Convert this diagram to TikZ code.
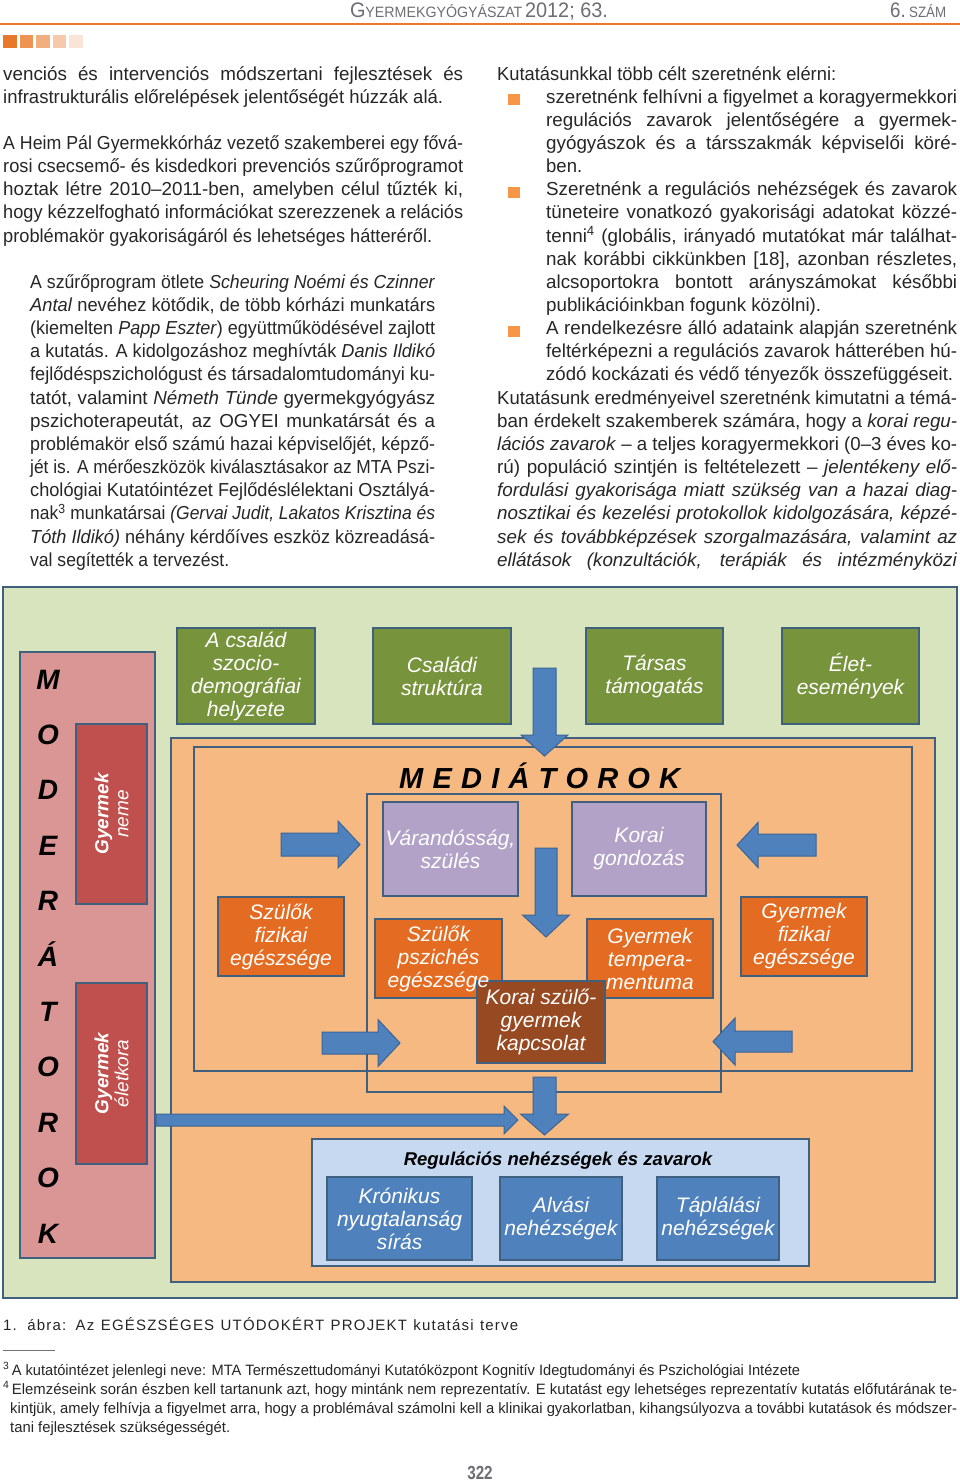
\documentclass[tikz,border=0pt]{standalone}
\usepackage{fontspec}
\setmainfont{Liberation Sans}
\newfontfamily\ritkitott[LetterSpace=8]{Liberation Sans}
\usepackage{graphicx}

\definecolor{hatzold}{HTML}{D7E4BD}
\definecolor{keret}{HTML}{40607F}
\definecolor{rozsa}{HTML}{D99694}
\definecolor{vorosbox}{HTML}{C0504D}
\definecolor{oliva}{HTML}{77933C}
\definecolor{halvnarancs}{HTML}{F5B981}
\definecolor{lila}{HTML}{B3A2C7}
\definecolor{narancs}{HTML}{E46C22}
\definecolor{barna}{HTML}{974A21}
\definecolor{halvkek}{HTML}{C6D9F1}
\definecolor{kek}{HTML}{4F81BD}
\definecolor{nyilkeret}{HTML}{3A6496}
\definecolor{fejnarancs}{HTML}{E8792B}
\definecolor{fejszurke}{HTML}{6D6E71}
\definecolor{pontnarancs}{HTML}{F79646}

% sor adott szelessegre (sorkizart, vagy szukitve)
\newlength\sorhossz
\newcommand\sor[2]{\settowidth\sorhossz{#2}%
  \ifdim\sorhossz>#1pt\relax
    \pgfmathsetmacro\arany{#1/\sorhossz}\scalebox{\arany}[1]{#2}%
  \else\makebox[#1pt][s]{#2}\fi}

% blokknyilak: fuggoleges (x, teteje, fej, csucs, szar/2, fej/2)
\newcommand\vnyil[6]{\draw[blokknyil] ({#1-#5},#2) -- ({#1+#5},#2) -- ({#1+#5},#3) -- ({#1+#6},#3) -- (#1,#4) -- ({#1-#6},#3) -- ({#1-#5},#3) -- cycle;}
% vizszintes (kezdet, fej, csucs, y, szar/2, fej/2)
\newcommand\hnyil[6]{\draw[blokknyil] (#1,{#4-#5}) -- (#2,{#4-#5}) -- (#2,{#4-#6}) -- (#3,#4) -- (#2,{#4+#6}) -- (#2,{#4+#5}) -- (#1,{#4+#5}) -- cycle;}

\begin{document}
\begin{tikzpicture}[x=1pt, y=-1pt,
  szoveg/.style={anchor=base west, inner sep=0, text=black!85, font=\fontsize{18.8}{23}\selectfont},
  labjegyzet/.style={anchor=base west, inner sep=0, text=black!85, font=\fontsize{15}{19}\selectfont},
  panel/.style={draw=keret, line width=1.8},
  doboz/.style={draw=keret, line width=1.8, inner sep=0, text=white, align=center, font=\fontsize{21}{23}\selectfont\itshape},
  felirat/.style={inner sep=0, text=white, align=center, font=\fontsize{21}{23}\selectfont\itshape},
  modbetu/.style={anchor=base, inner sep=0, font=\fontsize{28}{28}\selectfont\bfseries\itshape},
  blokknyil/.style={draw=nyilkeret, line width=1, fill=kek, line join=miter}]

  \useasboundingbox (0,0) rectangle (960,1483);
  \fill[white] (0,0) rectangle (960,1483);

  % Fejlec
  \node[anchor=base, inner sep=0, text=fejszurke] (fejcim) at (479,17) {\sor{258}{{\fontsize{21}{21}\selectfont G}{\fontsize{15}{15}\selectfont YERMEKGYÓGYÁSZAT} {\fontsize{21}{21}\selectfont 2012; 63.}}};
  \node[anchor=base west, inner sep=0, text=fejszurke] (szam) at (890,17) {\sor{56}{{\fontsize{21}{21}\selectfont 6.} {\fontsize{15}{15}\selectfont SZÁM}}};
  \draw[fejnarancs, line width=2.5] (0,24) -- (960,24);
  \foreach \i/\m in {0/100,1/80,2/60,3/40,4/20}
    \fill[fejnarancs!\m!white] ({3+\i*16.5},35) rectangle ++(13.5,13);

  % Bal hasab
  \node[szoveg] (bal0) at (3,80) {\sor{460}{venciós és intervenciós módszertani fejlesztések és}};
  \node[szoveg] (bal1) at (3,103.15) {\sor{440}{infrastrukturális előrelépések jelentőségét húzzák alá.}};
  \node[szoveg] (bal3) at (3,149.45) {\sor{460}{A Heim Pál Gyermekkórház vezető szakemberei egy fővá-}};
  \node[szoveg] (bal4) at (3,172.6) {\sor{460}{rosi csecsemő- és kisdedkori prevenciós szűrőprogramot}};
  \node[szoveg] (bal5) at (3,195.75) {\sor{460}{hoztak létre 2010–2011-ben, amelyben célul tűzték ki,}};
  \node[szoveg] (bal6) at (3,218.9) {\sor{460}{hogy kézzelfogható információkat szerezzenek a relációs}};
  \node[szoveg] (bal7) at (3,242.05) {\sor{429}{problémakör gyakoriságáról és lehetséges hátteréről.}};
  \node[szoveg] (bal9) at (30,288.35) {\sor{405}{A szűrőprogram ötlete \textit{Scheuring Noémi és Czinner}}};
  \node[szoveg] (bal10) at (30,311.5) {\sor{405}{\textit{Antal} nevéhez kötődik, de több kórházi munkatárs}};
  \node[szoveg] (bal11) at (30,334.65) {\sor{405}{(kiemelten \textit{Papp Eszter}) együttműködésével zajlott}};
  \node[szoveg] (bal12) at (30,357.8) {\sor{405}{a kutatás. A kidolgozáshoz meghívták \textit{Danis Ildikó}}};
  \node[szoveg] (bal13) at (30,380.95) {\sor{405}{fejlődéspszichológust és társadalomtudományi ku-}};
  \node[szoveg] (bal14) at (30,404.1) {\sor{405}{tatót, valamint \textit{Németh Tünde} gyermekgyógyász}};
  \node[szoveg] (bal15) at (30,427.25) {\sor{405}{pszichoterapeutát, az OGYEI munkatársát és a}};
  \node[szoveg] (bal16) at (30,450.4) {\sor{405}{problémakör első számú hazai képviselőjét, képző-}};
  \node[szoveg] (bal17) at (30,473.55) {\sor{405}{jét is. A mérőeszközök kiválasztásakor az MTA Pszi-}};
  \node[szoveg] (bal18) at (30,496.7) {\sor{405}{chológiai Kutatóintézet Fejlődéslélektani Osztályá-}};
  \node[szoveg] (bal19) at (30,519.85) {\sor{405}{nak\textsuperscript{3} munkatársai \textit{(Gervai Judit, Lakatos Krisztina és}}};
  \node[szoveg] (bal20) at (30,543) {\sor{405}{\textit{Tóth Ildikó)} néhány kérdőíves eszköz közreadásá-}};
  \node[szoveg] (bal21) at (30,566.15) {\sor{199}{val segítették a tervezést.}};

  % Jobb hasab
  \node[szoveg] (jobb0) at (497,80) {\sor{339}{Kutatásunkkal több célt szeretnénk elérni:}};
  \foreach \k in {103.15,195.75,334.65}
    \fill[pontnarancs] (508,{\k-9}) rectangle (520,{\k+2});
  \node[szoveg] (jobb1) at (546,103.15) {\sor{411}{szeretnénk felhívni a figyelmet a koragyermekkori}};
  \node[szoveg] (jobb2) at (546,126.3) {\sor{411}{regulációs zavarok jelentőségére a gyermek-}};
  \node[szoveg] (jobb3) at (546,149.45) {\sor{411}{gyógyászok és a társszakmák képviselői köré-}};
  \node[szoveg] (jobb4) at (546,172.6) {\sor{36}{ben.}};
  \node[szoveg] (jobb5) at (546,195.75) {\sor{411}{Szeretnénk a regulációs nehézségek és zavarok}};
  \node[szoveg] (jobb6) at (546,218.9) {\sor{411}{tüneteire vonatkozó gyakorisági adatokat közzé-}};
  \node[szoveg] (jobb7) at (546,242.05) {\sor{411}{tenni\textsuperscript{4} (globális, irányadó mutatókat már találhat-}};
  \node[szoveg] (jobb8) at (546,265.2) {\sor{411}{nak korábbi cikkünkben [18], azonban részletes,}};
  \node[szoveg] (jobb9) at (546,288.35) {\sor{411}{alcsoportokra bontott arányszámokat későbbi}};
  \node[szoveg] (jobb10) at (546,311.5) {\sor{275}{publikációinkban fogunk közölni).}};
  \node[szoveg] (jobb11) at (546,334.65) {\sor{411}{A rendelkezésre álló adataink alapján szeretnénk}};
  \node[szoveg] (jobb12) at (546,357.8) {\sor{411}{feltérképezni a regulációs zavarok hátterében hú-}};
  \node[szoveg] (jobb13) at (546,380.95) {\sor{407}{zódó kockázati és védő tényezők összefüggéseit.}};
  \node[szoveg] (jobb14) at (497,404.1) {\sor{460}{Kutatásunk eredményeivel szeretnénk kimutatni a témá-}};
  \node[szoveg] (jobb15) at (497,427.25) {\sor{460}{ban érdekelt szakemberek számára, hogy a \textit{korai regu-}}};
  \node[szoveg] (jobb16) at (497,450.4) {\sor{460}{\textit{lációs zavarok} – a teljes koragyermekkori (0–3 éves ko-}};
  \node[szoveg] (jobb17) at (497,473.55) {\sor{460}{rú) populáció szintjén is feltételezett – \textit{jelentékeny elő-}}};
  \node[szoveg] (jobb18) at (497,496.7) {\sor{460}{\textit{fordulási gyakorisága miatt szükség van a hazai diag-}}};
  \node[szoveg] (jobb19) at (497,519.85) {\sor{460}{\textit{nosztikai és kezelési protokollok kidolgozására, képzé-}}};
  \node[szoveg] (jobb20) at (497,543) {\sor{460}{\textit{sek és továbbképzések szorgalmazására, valamint az}}};
  \node[szoveg] (jobb21) at (497,566.15) {\sor{460}{\textit{ellátások (konzultációk, terápiák és intézményközi}}};

  % Abra: hatter
  \draw[panel, fill=hatzold] (3,587) rectangle (957,1298);

  % Moderatorok
  \draw[panel, fill=rozsa] (20,652) rectangle (155,1258);
  \foreach \b [count=\i from 0] in {M,O,D,E,R,Á,T,O,R,O,K}
    \node[modbetu] (mod\i) at (48,{689+\i*55.4}) {\b};
  \node[doboz, fill=vorosbox, rotate=90, minimum width=180, minimum height=71, font=\fontsize{19}{20}\selectfont\itshape] (neme) at (111.5,814) {\textbf{Gyermek}\\neme};
  \node[doboz, fill=vorosbox, rotate=90, minimum width=181, minimum height=71, font=\fontsize{19}{20}\selectfont\itshape] (eletkor) at (111.5,1073.5) {\textbf{Gyermek}\\életkora};

  % Kornyezeti tenyezok
  \node[doboz, fill=oliva, minimum width=138, minimum height=96] (csalad) at (246,676) {A család\\szocio-\\demográfiai\\helyzete};
  \node[doboz, fill=oliva, minimum width=138, minimum height=96] (struktura) at (442,676) {Családi\\struktúra};
  \node[doboz, fill=oliva, minimum width=137, minimum height=96] (tarsas) at (654.5,676) {Társas\\támogatás};
  \node[doboz, fill=oliva, minimum width=137, minimum height=96] (elet) at (850.5,676) {Élet-\\események};

  % Mediatorok
  \draw[panel, fill=halvnarancs] (171,738) rectangle (935,1282);
  \draw[panel] (194,747) rectangle (912,1071);
  \draw[panel] (367,794) rectangle (721,1092);
  \node[anchor=base west, inner sep=0, font=\fontsize{29}{29}\selectfont\bfseries\itshape] (mediatorok) at (399,788) {\sor{281}{M E D I Á T O R O K}};

  \node[doboz, fill=lila, minimum width=135, minimum height=94] (varandos) at (450.5,849) {Várandósság,\\szülés};
  \node[doboz, fill=lila, minimum width=134, minimum height=94] (gondozas) at (639,849) {Korai\\gondozás};
  \node[doboz, fill=narancs, minimum width=126, minimum height=79] (szfizikai) at (281,936.5) {Szülők\\fizikai\\egészsége};
  \node[doboz, fill=narancs, minimum width=126, minimum height=79] (gyfizikai) at (804,936.5) {Gyermek\\fizikai\\egészsége};
  \node[doboz, fill=narancs, minimum width=127, minimum height=79] (pszich) at (438.5,958.5) {};
  \node[doboz, fill=narancs, minimum width=126, minimum height=79] (temper) at (650,958.5) {};
  \node[doboz, fill=barna, minimum width=128, minimum height=82] (kapcsolat) at (541,1022) {Korai szülő-\\gyermek\\kapcsolat};
  \node[felirat] (pszichszoveg) at (pszich) {Szülők\\pszichés\\egészsége};
  \node[felirat] (temperszoveg) at (temper) {Gyermek\\tempera-\\mentuma};

  % Regulacios zavarok
  \draw[panel, fill=halvkek] (312,1139) rectangle (809,1266);
  \node[anchor=base, inner sep=0, font=\fontsize{18.5}{20}\selectfont\bfseries\itshape] (regulacio) at (558,1165) {Regulációs nehézségek és zavarok};
  \node[doboz, fill=kek, minimum width=145, minimum height=83] (kronikus) at (399.5,1218.5) {Krónikus\\nyugtalanság\\sírás};
  \node[doboz, fill=kek, minimum width=122, minimum height=83] (alvasi) at (561,1218.5) {Alvási\\nehézségek};
  \node[doboz, fill=kek, minimum width=122, minimum height=83] (taplalasi) at (718,1218.5) {Táplálási\\nehézségek};

  % Nyilak
  \vnyil{544.5}{668}{735}{756}{11.5}{23.5}
  \vnyil{546}{848}{915}{937}{11}{23.5}
  \vnyil{544.5}{1077}{1114}{1135}{11.5}{24}
  \hnyil{281}{338}{360}{844.5}{11.5}{23.5}
  \hnyil{816}{758}{737}{845}{11}{22.5}
  \hnyil{322}{378}{400}{1043}{11}{23.5}
  \hnyil{792}{735}{713}{1041.5}{10.5}{23.5}
  \hnyil{156}{504}{518}{1120}{6}{14}

  % Abrafelirat es labjegyzetek
  \node[anchor=base west, inner sep=0, text=black!85, font=\fontsize{15}{19}\ritkitott] (abracim) at (3,1330) {\sor{515}{1. ábra: Az EGÉSZSÉGES UTÓDOKÉRT PROJEKT kutatási terve}};
  \draw[black!55, line width=0.6] (3,1350) -- (55,1350);
  \node[labjegyzet] (jegyzet3) at (3,1375) {\sor{797}{\textsuperscript{3}\,A kutatóintézet jelenlegi neve: MTA Természettudományi Kutatóközpont Kognitív Idegtudományi és Pszichológiai Intézete}};
  \node[labjegyzet] (jegyzet4a) at (3,1394) {\sor{954}{\textsuperscript{4}\,Elemzéseink során észben kell tartanunk azt, hogy mintánk nem reprezentatív. E kutatást egy lehetséges reprezentatív kutatás előfutárának te-}};
  \node[labjegyzet] (jegyzet4b) at (10,1413) {\sor{947}{kintjük, amely felhívja a figyelmet arra, hogy a problémával számolni kell a klinikai gyakorlatban, kihangsúlyozva a további kutatások és módszer-}};
  \node[labjegyzet] (jegyzet4c) at (10,1432) {\sor{220}{tani fejlesztések szükségességét.}};
  \node[anchor=base, inner sep=0, text=fejszurke, font=\fontsize{19}{19}\selectfont\bfseries] (oldalszam) at (480,1479) {\scalebox{0.8}[1]{322}};

\end{tikzpicture}
\end{document}
